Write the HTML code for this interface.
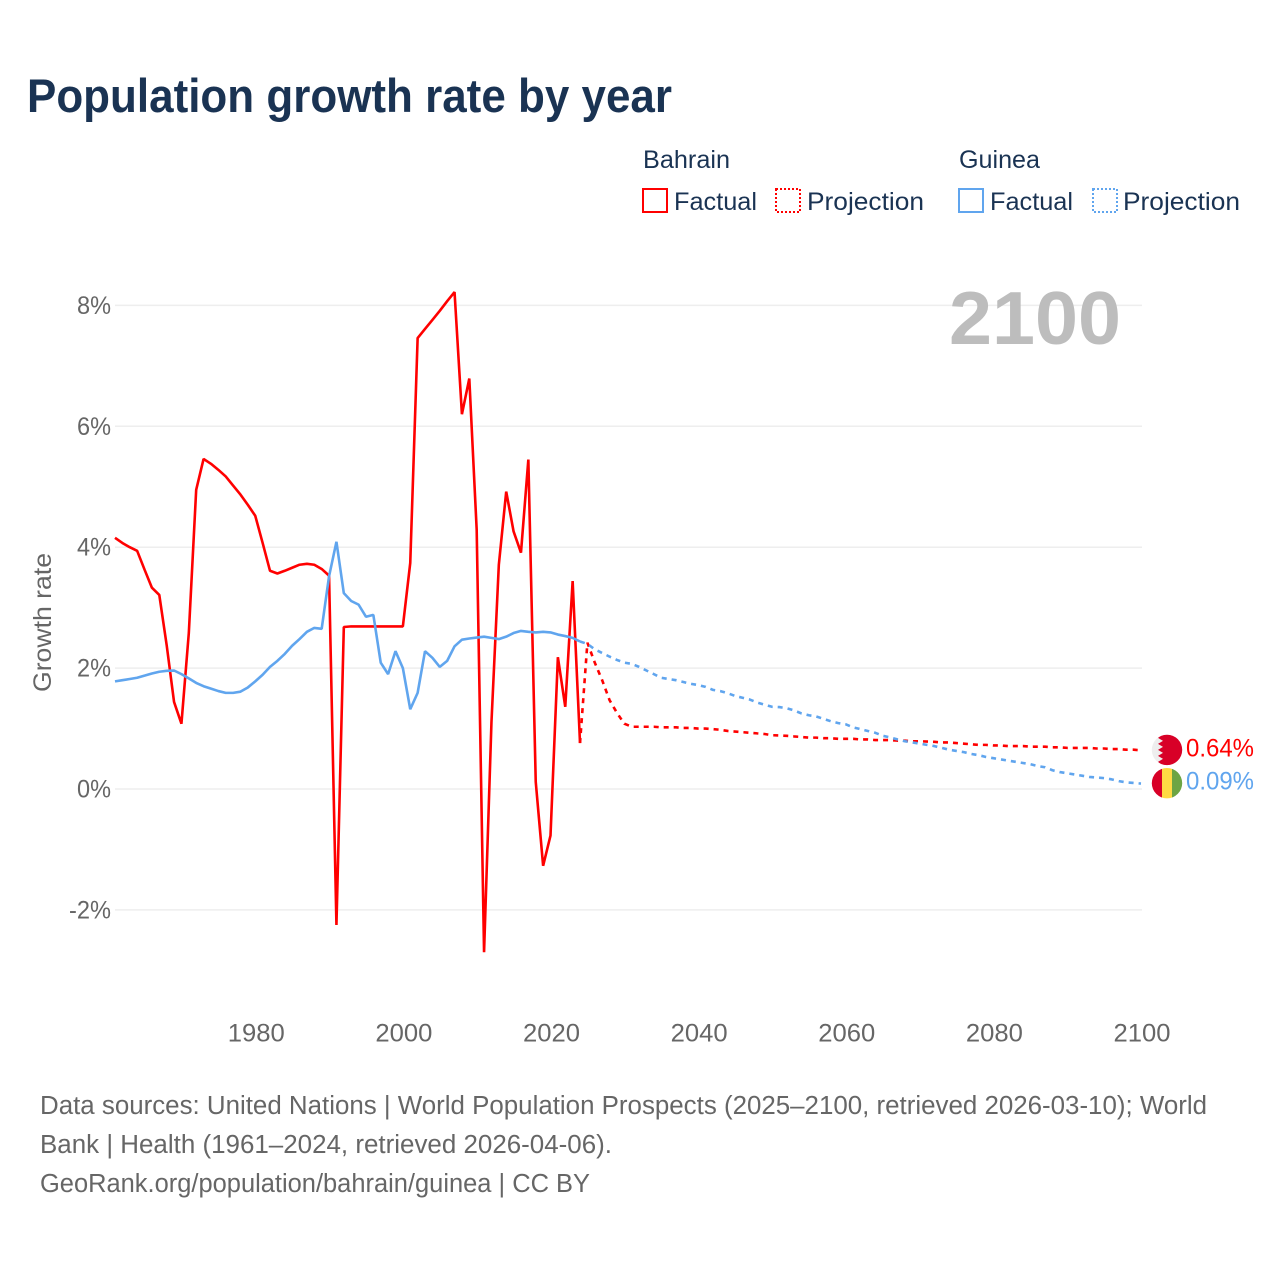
<!DOCTYPE html>
<html lang="en">
<head>
<meta charset="utf-8">
<title>Population growth rate by year</title>
<style>
  html, body { margin: 0; padding: 0; background: #ffffff; }
  svg { display: block; font-family: "Liberation Sans", sans-serif; }
  .title { font-weight: 700; font-size: 47px; fill: #1a3353; }
  .legend-text { font-size: 25px; fill: #1a3353; }
  .tick { font-size: 25px; fill: #666666; }
  .axis-title { font-size: 25px; fill: #666666; }
  .footer { font-size: 25.5px; fill: #666666; }
  .year { font-size: 75px; font-weight: 700; fill: #bdbdbd; }
  .end { font-size: 25px; }
</style>
</head>
<body>
<svg id="chart" xmlns="http://www.w3.org/2000/svg" width="1280" height="1280" viewBox="0 0 1280 1280">
  <rect x="0" y="0" width="1280" height="1280" fill="#ffffff"/>
  <text class="title" x="27" y="112" textLength="645" lengthAdjust="spacingAndGlyphs">Population growth rate by year</text>

  <g>
    <text class="legend-text" x="643" y="168" textLength="87" lengthAdjust="spacingAndGlyphs">Bahrain</text>
    <g>
      <rect x="643" y="189" width="24" height="23" fill="none" stroke="#ff0000" stroke-width="2"/>
      <text class="legend-text" x="674" y="210" textLength="83" lengthAdjust="spacingAndGlyphs">Factual</text>
    </g>
    <g>
      <rect x="776" y="189" width="24" height="23" fill="none" stroke="#ff0000" stroke-width="2" stroke-dasharray="2 2"/>
      <text class="legend-text" x="807" y="210" textLength="117" lengthAdjust="spacingAndGlyphs">Projection</text>
    </g>
    <text class="legend-text" x="959" y="168" textLength="81" lengthAdjust="spacingAndGlyphs">Guinea</text>
    <g>
      <rect x="959" y="189" width="24" height="23" fill="none" stroke="#60a5ee" stroke-width="2"/>
      <text class="legend-text" x="990" y="210" textLength="83" lengthAdjust="spacingAndGlyphs">Factual</text>
    </g>
    <g>
      <rect x="1093" y="189" width="24" height="23" fill="none" stroke="#60a5ee" stroke-width="2" stroke-dasharray="2 2"/>
      <text class="legend-text" x="1123" y="210" textLength="117" lengthAdjust="spacingAndGlyphs">Projection</text>
    </g>
  </g>

  <g id="grid"></g>
  <text class="year" x="949" y="344" textLength="172" lengthAdjust="spacingAndGlyphs">2100</text>
  <g id="series"></g>
  <g id="yticks"></g>
  <g id="xticks"></g>
  <text class="axis-title" transform="translate(51,692) rotate(-90)" textLength="139" lengthAdjust="spacingAndGlyphs">Growth rate</text>
  <g id="ends"></g>

  <g>
    <text class="footer" x="40" y="1114" textLength="1167" lengthAdjust="spacingAndGlyphs">Data sources: United Nations | World Population Prospects (2025–2100, retrieved 2026-03-10); World</text>
    <text class="footer" x="40" y="1153" textLength="572" lengthAdjust="spacingAndGlyphs">Bank | Health (1961–2024, retrieved 2026-04-06).</text>
    <text class="footer" x="40" y="1192" textLength="550" lengthAdjust="spacingAndGlyphs">GeoRank.org/population/bahrain/guinea | CC BY</text>
  </g>
</svg>

<script>
const factualStartYear = 1961;
const projectionStartYear = 2024;

const yTickValues = [8, 6, 4, 2, 0, -2];
const yTickLabels = ["8%", "6%", "4%", "2%", "0%", "-2%"];
const xTickYears = [1980, 2000, 2020, 2040, 2060, 2080, 2100];

const bahrainFactual = [
  4.155, 4.07, 4.0, 3.94, 3.63, 3.33, 3.21, 2.38, 1.44, 1.08,
  2.58, 4.95, 5.46, 5.38, 5.28, 5.17, 5.02, 4.87, 4.70, 4.52,
  4.07, 3.61, 3.565, 3.61, 3.66, 3.71, 3.725, 3.71, 3.64, 3.53,
  -2.25, 2.68, 2.69, 2.69, 2.69, 2.69, 2.69, 2.69, 2.69, 2.69,
  3.74, 7.46, 7.61, 7.76, 7.91, 8.07, 8.22, 6.2, 6.79, 4.29,
  -2.7, 1.1, 3.71, 4.92, 4.26, 3.91, 5.45, 0.12, -1.27, -0.77,
  2.18, 1.36, 3.44, 0.76
];
const bahrainProjection = [
  0.76, 2.42, 2.09, 1.8, 1.47, 1.26, 1.08,
  1.03, 1.03, 1.03, 1.03, 1.02, 1.02, 1.02, 1.01, 1.01, 1.00,
  1.00, 0.99, 0.98, 0.96, 0.95, 0.94, 0.93, 0.92, 0.91, 0.89,
  0.885, 0.88, 0.87, 0.86, 0.85, 0.85, 0.84, 0.84, 0.83, 0.83,
  0.83, 0.82, 0.82, 0.81, 0.81, 0.81, 0.80, 0.80, 0.79, 0.79,
  0.785, 0.78, 0.77, 0.77, 0.76, 0.75, 0.74, 0.73, 0.73, 0.72,
  0.72, 0.71, 0.71, 0.71, 0.70, 0.70, 0.70, 0.69, 0.69, 0.68,
  0.68, 0.68, 0.68, 0.67, 0.67, 0.66, 0.66, 0.65, 0.65, 0.64
];
const guineaFactual = [
  1.78, 1.80, 1.82, 1.84, 1.875, 1.91, 1.94, 1.955, 1.96, 1.90,
  1.83, 1.755, 1.70, 1.66, 1.62, 1.59, 1.59, 1.61, 1.68, 1.78,
  1.89, 2.02, 2.12, 2.235, 2.37, 2.48, 2.60, 2.665, 2.65, 3.52,
  4.09, 3.24, 3.11, 3.05, 2.85, 2.88, 2.09, 1.90, 2.28, 2.0,
  1.32, 1.59, 2.28, 2.17, 2.02, 2.12, 2.36, 2.47, 2.49, 2.505,
  2.52, 2.50, 2.48, 2.52, 2.58, 2.615, 2.60, 2.59, 2.60, 2.59,
  2.555, 2.53, 2.50, 2.44
];
const guineaProjection = [
  2.44, 2.40, 2.31, 2.25, 2.19, 2.135, 2.09,
  2.07, 2.02, 1.96, 1.90, 1.84, 1.82, 1.80, 1.77, 1.74, 1.72,
  1.69, 1.64, 1.62, 1.585, 1.54, 1.51, 1.48, 1.43, 1.395, 1.36,
  1.355, 1.335, 1.30, 1.25, 1.22, 1.20, 1.16, 1.12, 1.09, 1.07,
  1.02, 0.99, 0.96, 0.93, 0.88, 0.855, 0.82, 0.79, 0.77, 0.75,
  0.73, 0.71, 0.68, 0.65, 0.63, 0.61, 0.58, 0.56, 0.53, 0.51,
  0.49, 0.47, 0.45, 0.43, 0.41, 0.38, 0.36, 0.31, 0.28, 0.26,
  0.24, 0.22, 0.20, 0.19, 0.18, 0.16, 0.13, 0.11, 0.10, 0.09
];

const SVG_NS = "http://www.w3.org/2000/svg";
const RED = "#ff0000";
const BLUE = "#60a5ee";

function xScale(year) {
  return 115 + (year - 1961) * (1141 - 115) / (2100 - 1961);
}
function yScale(value) {
  return 789 - value * 60.45;
}
function make(tag, attrs) {
  const el = document.createElementNS(SVG_NS, tag);
  Object.keys(attrs).forEach(function (k) { el.setAttribute(k, attrs[k]); });
  return el;
}
function linePath(values, startYear) {
  return values.map(function (v, i) {
    return (i === 0 ? "M" : "L") + xScale(startYear + i).toFixed(2) + " " + yScale(v).toFixed(2);
  }).join(" ");
}
function drawSeries(values, startYear, color, dashed, name) {
  const attrs = {
    d: linePath(values, startYear),
    fill: "none",
    stroke: color,
    "stroke-width": 2.6,
    "stroke-linejoin": "bevel"
  };
  if (dashed) attrs["stroke-dasharray"] = "5 5";
  const path = make("path", attrs);
  
  
  document.getElementById("series").appendChild(path);
}

const gridGroup = document.getElementById("grid");
const yTickGroup = document.getElementById("yticks");
const xTickGroup = document.getElementById("xticks");

yTickValues.forEach(function (value, i) {
  const y = yScale(value);
  const line = make("line", { x1: 115, x2: 1142, y1: y, y2: y, stroke: "#eeeeee", "stroke-width": 1.5 });
  
  
  gridGroup.appendChild(line);

  const label = yTickLabels[i];
  const width = label.length === 3 ? 42 : 34;
  const text = make("text", {
    class: "tick",
    x: 111 - width,
    y: y + 8.5,
    textLength: width,
    lengthAdjust: "spacingAndGlyphs"
  });
  text.textContent = label;
  
  
  yTickGroup.appendChild(text);
});

xTickYears.forEach(function (year) {
  const text = make("text", {
    class: "tick",
    x: xScale(year) - 27.5,
    y: 1041.5,
    textLength: 57,
    lengthAdjust: "spacingAndGlyphs"
  });
  text.textContent = String(year);
  
  
  xTickGroup.appendChild(text);
});

drawSeries(bahrainFactual, factualStartYear, RED, false, "bahrain-factual-line");
drawSeries(bahrainProjection, projectionStartYear, RED, true, "bahrain-projection-line");
drawSeries(guineaFactual, factualStartYear, BLUE, false, "guinea-factual-line");
drawSeries(guineaProjection, projectionStartYear, BLUE, true, "guinea-projection-line");

const endsGroup = document.getElementById("ends");

function addEndLabel(value, color, name) {
  const text = make("text", {
    class: "end",
    x: 1186,
    y: yScale(value) + 6,
    fill: color,
    textLength: 68,
    lengthAdjust: "spacingAndGlyphs"
  });
  text.textContent = value.toFixed(2) + "%";
  
  
  endsGroup.appendChild(text);
}

function addFlag(value, id, name, drawParts) {
  const group = make("g", { transform: "translate(1167," + (yScale(value) - 0.4).toFixed(2) + ")" });
  
  
  const clip = make("clipPath", { id: id });
  clip.appendChild(make("circle", { cx: 0, cy: 0, r: 15.2 }));
  group.appendChild(clip);
  const inner = make("g", { "clip-path": "url(#" + id + ")" });
  drawParts(inner);
  group.appendChild(inner);
  endsGroup.appendChild(group);
}

const bahrainLast = bahrainProjection[bahrainProjection.length - 1];
const guineaLast = guineaProjection[guineaProjection.length - 1];

addFlag(bahrainLast, "clip-bh", "bahrain-flag", function (g) {
  g.appendChild(make("rect", { x: -16, y: -16, width: 32, height: 32, fill: "#eeeeee" }));
  g.appendChild(make("polygon", {
    points: "-4,-16 -9,-12 -4,-9 -9,-6 -4,-3 -9,0 -4,3 -9,6 -4,9 -9,12 -4,16 16,16 16,-16",
    fill: "#d80027"
  }));
});
addFlag(guineaLast, "clip-gn", "guinea-flag", function (g) {
  g.appendChild(make("rect", { x: -16, y: -16, width: 11, height: 32, fill: "#d80027" }));
  g.appendChild(make("rect", { x: -5, y: -16, width: 10, height: 32, fill: "#ffda44" }));
  g.appendChild(make("rect", { x: 5, y: -16, width: 11, height: 32, fill: "#6da544" }));
});
addEndLabel(bahrainLast, RED, "bahrain-end-value");
addEndLabel(guineaLast, BLUE, "guinea-end-value");
</script>
</body>
</html>
